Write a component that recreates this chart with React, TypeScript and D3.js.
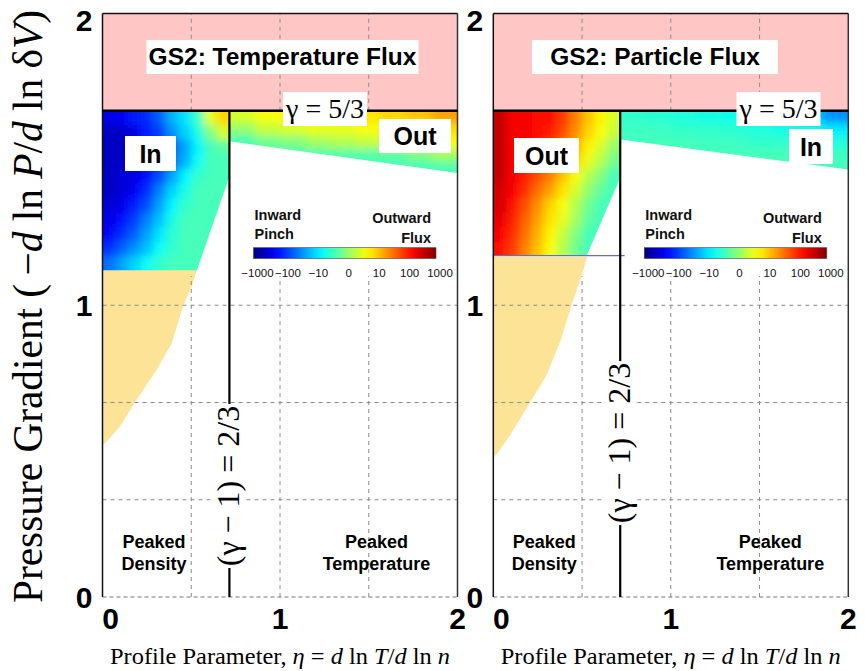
import React from 'react';
import * as d3 from 'd3';

const W = 865;
const H = 671;

// axes
const xTicks = [0, 1, 2];
const yTicks = [0, 1, 2];
const gridX = [0.5, 1, 1.5];
const gridY = [1 / 3, 2 / 3, 1];
const etaLine = 0.715; // (gamma - 1) = 2/3 line position
const gammaLine = 5 / 3;
const cbarTickLabels = ['\u22121000', '\u2212100', '\u221210', '0', '10', '100', '1000'];
const cbarLevels = [-3, -2, -1, 0, 1, 2, 3];

// flux in signed decades (log10 scale, -3 = -1000, 3 = 1000)
const tempInner = [
  [-2.4, -2.3, -2.1, -2.0, -1.7, -1.2, -0.9, -0.4, 0.6, 1.0],
  [-2.6, -2.6, -2.4, -2.1, -1.9, -1.4, -1.0, -0.6, 0.0, 0.5],
  [-2.6, -2.6, -2.5, -2.3, -2.0, -1.7, -1.3, -0.8, -0.35, -0.2],
  [-2.6, -2.6, -2.5, -2.3, -2.0, -1.6, -1.2, -0.7, -0.35, -0.35],
  [-2.6, -2.5, -2.4, -2.2, -1.8, -1.3, -0.8, -0.45, -0.35, -0.35],
  [-2.6, -2.5, -2.3, -2.0, -1.5, -1.0, -0.6, -0.35, -0.35, -0.35],
  [-2.5, -2.4, -2.1, -1.8, -1.3, -0.8, -0.45, -0.35, -0.35, -0.35],
  [-2.4, -2.2, -1.9, -1.5, -1.1, -0.6, -0.35, -0.35, -0.35, -0.35],
  [-2.3, -2.0, -1.7, -1.3, -0.9, -0.5, -0.35, -0.35, -0.35, -0.35],
  [-2.0, -1.7, -1.4, -1.1, -0.7, -0.45, -0.35, -0.35, -0.35, -0.35],
  [-1.6, -1.3, -1.0, -0.7, -0.45, -0.35, -0.35, -0.35, -0.35, -0.35],
];
const tempOuter = [
  [0.5, 0.7, 0.8, 0.8, 0.85, 0.9, 1.0, 1.1, 1.3],
  [0.1, 0.4, 0.5, 0.6, 0.6, 0.7, 0.8, 0.85, 0.95],
  [-0.35, -0.1, 0.0, 0.2, 0.3, 0.4, 0.5, 0.6, 0.7],
  [-0.35, -0.35, -0.35, -0.3, -0.25, -0.25, -0.2, 0.0, 0.2],
  [-0.35, -0.35, -0.35, -0.35, -0.35, -0.35, -0.35, -0.35, -0.3],
];
const partInner = [
  [2.6, 2.3, 2.3, 2.2, 2.2, 1.9, 1.5, 1.1, 0.8, 0.5],
  [2.6, 2.3, 2.3, 2.2, 2.1, 1.8, 1.4, 1.0, 0.7, 0.4],
  [2.6, 2.3, 2.3, 2.1, 1.9, 1.6, 1.2, 0.8, 0.5, 0.1],
  [2.6, 2.3, 2.2, 2.0, 1.7, 1.4, 1.0, 0.6, 0.3, -0.1],
  [2.6, 2.3, 2.1, 1.8, 1.5, 1.1, 0.7, 0.3, 0.0, -0.35],
  [2.5, 2.3, 2.0, 1.6, 1.3, 0.9, 0.5, 0.1, -0.2, -0.35],
  [2.5, 2.2, 1.8, 1.4, 1.0, 0.7, 0.3, -0.1, -0.35, -0.35],
  [2.4, 2.1, 1.7, 1.3, 0.9, 0.6, 0.2, -0.2, -0.35, -0.35],
  [2.3, 2.0, 1.6, 1.2, 0.8, 0.4, 0.0, -0.35, -0.35, -0.35],
  [2.2, 1.9, 1.5, 1.1, 0.7, 0.3, -0.1, -0.35, -0.35, -0.35],
];
const partOuter = [
  [-0.45, -0.5, -0.55, -0.6, -0.65, -0.75, -0.9, -1.1, -1.4],
  [-0.4, -0.4, -0.45, -0.45, -0.5, -0.55, -0.6, -0.7, -0.85],
  [-0.35, -0.35, -0.35, -0.4, -0.4, -0.45, -0.45, -0.5, -0.55],
  [-0.35, -0.35, -0.35, -0.35, -0.35, -0.35, -0.35, -0.4, -0.4],
  [-0.35, -0.35, -0.35, -0.35, -0.35, -0.35, -0.35, -0.35, -0.35],
];

// region outlines [eta, pressure gradient]
const tempInnerEdge = [[0, 5 / 3], [0.715, 5 / 3], [0.715, 1.441], [0.532, 1.12], [0, 1.12]];
const tempOuterEdge = [[0.715, 5 / 3], [2, 5 / 3], [2, 1.453], [0.715, 1.562]];
const partInnerEdge = [[0, 5 / 3], [0.715, 5 / 3], [0.715, 1.437], [0.526, 1.17], [0, 1.17]];
const partOuterEdge = [[0.715, 5 / 3], [2, 5 / 3], [2, 1.465], [0.715, 1.568]];
const tempPeak = [[0, 1.122], [0.532, 1.122], [0.5, 1.06], [0.455, 1.0], [0.39, 0.87], [0.305, 0.779], [0.183, 0.668], [0.099, 0.584], [0.024, 0.533], [0, 0.52]];
const partPeak = [[0, 1.165], [0.53, 1.165], [0.49, 1.087], [0.44, 1.0], [0.38, 0.88], [0.3, 0.76], [0.18, 0.64], [0.09, 0.55], [0.02, 0.49], [0, 0.477]];

const clamp = (v: number) => Math.max(0, Math.min(1, v));
function jet(t: number) {
  const r = clamp(1.5 - Math.abs(4 * t - 3));
  const g = clamp(1.5 - Math.abs(4 * t - 2));
  const b = clamp(1.5 - Math.abs(4 * t - 1));
  return d3.rgb(r * 255, g * 255, b * 255).formatHex();
}
const levelColor = (s: number) => jet((s + 3) / 6);

const SANS = '"Liberation Sans", Arial, sans-serif';
const SERIF = '"Liberation Serif", "Times New Roman", serif';

const panels = [
  {
    id: 't', x0: 102.5, x1: 457.5, title: 'GS2: Temperature Flux', titleCx: 282.5, titleW: 272,
    inner: tempInner, outer: tempOuter, innerEdge: tempInnerEdge, outerEdge: tempOuterEdge, peak: tempPeak,
    innerBottom: 1.12, gammaCx: 325, rotCy: 486, pinch: false,
    boxes: [{ text: 'In', x: 125, y: 136, w: 51, h: 35 }, { text: 'Out', x: 379, y: 119, w: 72, h: 34 }],
    peakedDx: 51.5, tempDx: 274,
  },
  {
    id: 'p', x0: 493.3, x1: 848.3, title: 'GS2: Particle Flux', titleCx: 655, titleW: 246,
    inner: partInner, outer: partOuter, innerEdge: partInnerEdge, outerEdge: partOuterEdge, peak: partPeak,
    innerBottom: 1.17, gammaCx: 778.5, rotCy: 443, pinch: true,
    boxes: [{ text: 'Out', x: 514, y: 138, w: 65, h: 35 }, { text: 'In', x: 789, y: 129, w: 44, h: 35 }],
    peakedDx: 51, tempDx: 277,
  },
];

const PAD = 16;

function Cells({ grid, e0, e1, top, bot, x, y }: any) {
  const nR = grid.length;
  const out: any[] = [];
  grid.forEach((row: number[], r: number) => {
    const nC = row.length;
    const ya = top - ((top - bot) * r) / nR;
    const yb = top - ((top - bot) * (r + 1)) / nR;
    row.forEach((v, c) => {
      const ea = e0 + ((e1 - e0) * c) / nC;
      const eb = e0 + ((e1 - e0) * (c + 1)) / nC;
      let px0 = x(ea), px1 = x(eb) + 0.7, py0 = y(ya), py1 = y(yb) + 0.7;
      if (c === 0) px0 -= PAD;
      if (c === nC - 1) px1 += PAD;
      if (r === 0) py0 -= PAD;
      if (r === nR - 1) py1 += PAD;
      out.push(<rect key={r + '-' + c} x={px0} y={py0} width={px1 - px0} height={py1 - py0} fill={levelColor(v)} />);
    });
  });
  return <g>{out}</g>;
}

function Panel({ p }: any) {
  const x = d3.scaleLinear().domain([0, 2]).range([p.x0, p.x1]);
  const y = d3.scaleLinear().domain([0, 2]).range([597, 13.5]);
  const line = d3.line<number[]>().x((d) => x(d[0])).y((d) => y(d[1]));
  const poly = (pts: number[][]) => line(pts) + 'Z';
  const cbL = p.x0 + 151;
  const cbR = p.x0 + 333.5;
  const cbScale = d3.scaleLinear().domain([-3, 3]).range([cbL + 4, cbR + 4]);
  const lx = x(etaLine);
  return (
    <g>
      <defs>
        <clipPath id={'ci' + p.id}><path d={poly(p.innerEdge)} /></clipPath>
        <clipPath id={'co' + p.id}><path d={poly(p.outerEdge)} /></clipPath>
        <filter id={'bl' + p.id} x="-10%" y="-10%" width="120%" height="120%">
          <feGaussianBlur stdDeviation={4} />
        </filter>
        <linearGradient id={'cb' + p.id} x1="0" x2="1" y1="0" y2="0">
          {d3.range(0, 1.0001, 0.05).map((t) => (
            <stop key={t} offset={t} stopColor={jet(t)} />
          ))}
        </linearGradient>
      </defs>
      {/* pink band above gamma = 5/3 */}
      <rect x={x(0)} y={y(2)} width={x(2) - x(0)} height={y(gammaLine) - y(2)} fill="#ffc6c6" />
      {/* peaked density region */}
      <path d={poly(p.peak)} fill="#fde396" />
      {/* grid */}
      {gridX.map((g) => (
        <g key={'gx' + g}>
          <line x1={x(g)} x2={x(g)} y1={y(0)} y2={y(1.1)} stroke="#8a8a8a" strokeDasharray="4,4" strokeWidth={1} />
          <line x1={x(g)} x2={x(g)} y1={y(gammaLine)} y2={y(2)} stroke="#8a8a8a" strokeDasharray="4,4" strokeWidth={1} />
        </g>
      ))}
      {gridY.map((g) => (
        <line key={'gy' + g} x1={x(0)} x2={x(2)} y1={y(g)} y2={y(g)} stroke="#8a8a8a" strokeDasharray="4,4" strokeWidth={1} />
      ))}
      {/* heat maps */}
      <g clipPath={`url(#ci${p.id})`}>
        <g filter={`url(#bl${p.id})`}>
          <Cells grid={p.inner} e0={0} e1={etaLine} top={gammaLine} bot={p.innerBottom} x={x} y={y} />
        </g>
      </g>
      <g clipPath={`url(#co${p.id})`}>
        <g filter={`url(#bl${p.id})`}>
          <Cells grid={p.outer} e0={etaLine} e1={2} top={gammaLine} bot={1.45} x={x} y={y} />
        </g>
      </g>
      {p.pinch && (
        <line x1={x(0)} x2={x(0.74)} y1={y(p.innerBottom)} y2={y(p.innerBottom)} stroke="#6a6ac8" strokeWidth={1.2} />
      )}
      {/* frame */}
      <line x1={x(0)} x2={x(2)} y1={y(0)} y2={y(0)} stroke="#777" strokeDasharray="4,3" strokeWidth={1} />
      <line x1={x(0)} x2={x(0)} y1={y(0)} y2={y(2)} stroke="#111" strokeWidth={1.5} />
      <line x1={x(2)} x2={x(2)} y1={y(0)} y2={y(2)} stroke="#333" strokeWidth={1.5} />
      <line x1={x(0)} x2={x(2)} y1={y(2)} y2={y(2)} stroke="#111" strokeWidth={1.5} />
      {/* gamma lines */}
      <line x1={x(0)} x2={x(2)} y1={y(gammaLine)} y2={y(gammaLine)} stroke="#000" strokeWidth={2.5} />
      <line x1={lx} x2={lx} y1={y(gammaLine)} y2={y(0)} stroke="#000" strokeWidth={2.2} />
      <g transform={`translate(${lx},${p.rotCy}) rotate(-90)`}>
        <rect x={-82} y={-15} width={164} height={30} fill="#fff" />
        <text x={0} y={10} textAnchor="middle" fontFamily={SERIF} fontSize={32} fill="#000">
          ({'\u03b3'} {'\u2212'} 1) = 2/3
        </text>
      </g>
      <rect x={p.gammaCx - 42} y={92} width={84} height={34} fill="#fff" />
      <text x={p.gammaCx} y={118} textAnchor="middle" fontFamily={SERIF} fontSize={28} fill="#000">
        {'\u03b3'} = 5/3
      </text>
      {/* title */}
      <rect x={p.titleCx - p.titleW / 2} y={40} width={p.titleW} height={34} fill="#fff" />
      <text x={p.titleCx} y={65} textAnchor="middle" fontFamily={SANS} fontWeight="bold" fontSize={24.5} fill="#000">
        {p.title}
      </text>
      {/* In / Out boxes */}
      {p.boxes.map((b: any) => (
        <g key={b.text}>
          <rect x={b.x} y={b.y} width={b.w} height={b.h} fill="#fff" />
          <text x={b.x + b.w / 2} y={b.y + b.h / 2 + 9} textAnchor="middle" fontFamily={SANS} fontWeight="bold" fontSize={25} fill="#000">
            {b.text}
          </text>
        </g>
      ))}
      {/* colorbar */}
      <text x={cbL + 1} y={220} fontFamily={SANS} fontWeight="bold" fontSize={14.5} fill="#111">Inward</text>
      <text x={cbL + 1} y={239} fontFamily={SANS} fontWeight="bold" fontSize={14.5} fill="#111">Pinch</text>
      <text x={cbR - 5} y={223} textAnchor="end" fontFamily={SANS} fontWeight="bold" fontSize={14.5} fill="#111">Outward</text>
      <text x={cbR - 5} y={243} textAnchor="end" fontFamily={SANS} fontWeight="bold" fontSize={14.5} fill="#111">Flux</text>
      <rect x={cbL} y={247.7} width={cbR - cbL} height={10.8} fill={`url(#cb${p.id})`} stroke="#444" strokeWidth={0.6} />
      {cbarLevels.map((lv, i) => (
        <text key={lv} x={cbScale(lv)} y={277} textAnchor="middle" fontFamily={SANS} fontSize={11.5} fill="#111">
          {cbarTickLabels[i]}
        </text>
      ))}
      {/* region labels */}
      {['Peaked', 'Density'].map((t, i) => (
        <text key={t} x={p.x0 + p.peakedDx} y={548 + i * 22} textAnchor="middle" fontFamily={SANS} fontWeight="bold" fontSize={18} fill="#000">{t}</text>
      ))}
      {['Peaked', 'Temperature'].map((t, i) => (
        <text key={t} x={p.x0 + p.tempDx} y={548 + i * 22} textAnchor="middle" fontFamily={SANS} fontWeight="bold" fontSize={18} fill="#000">{t}</text>
      ))}
      {/* tick labels */}
      {yTicks.map((t) => (
        <text key={'yt' + t} x={p.x0 - 10} y={Math.max(y(t), 20) + 10.5} textAnchor="end" fontFamily={SANS} fontWeight="bold" fontSize={30} fill="#000">{t}</text>
      ))}
      {xTicks.map((t) => (
        <text key={'xt' + t} x={x(t) + (t === 0 ? 8 : 0)} y={629} textAnchor="middle" fontFamily={SANS} fontWeight="bold" fontSize={30} fill="#000">{t}</text>
      ))}
      {/* x axis title */}
      <text x={(p.x0 + p.x1) / 2} y={664} textAnchor="middle" fontFamily={SERIF} fontSize={24} fill="#000" textLength={340} lengthAdjust="spacingAndGlyphs">
        Profile Parameter, <tspan fontStyle="italic">{'\u03b7'}</tspan> = <tspan fontStyle="italic">d</tspan> ln <tspan fontStyle="italic">T</tspan>/<tspan fontStyle="italic">d</tspan> ln <tspan fontStyle="italic">n</tspan>
      </text>
    </g>
  );
}

export default function App() {
  return (
    <svg width={W} height={H} viewBox={`0 0 ${W} ${H}`} style={{ position: 'absolute', left: 0, top: 0, background: '#fff' }}>
      <rect x={0} y={0} width={W} height={H} fill="#fff" />
      {panels.map((p) => (
        <Panel key={p.id} p={p} />
      ))}
      <text transform="translate(42,306.5) rotate(-90)" textAnchor="middle" fontFamily={SERIF} fontSize={42} fill="#000" textLength={593} lengthAdjust="spacingAndGlyphs">
        Pressure Gradient ({'\u2009\u2212'}<tspan fontStyle="italic">d</tspan> ln <tspan fontStyle="italic">P</tspan>/<tspan fontStyle="italic">d</tspan> ln {'\u03b4'}<tspan fontStyle="italic">V</tspan>)
      </text>
    </svg>
  );
}
